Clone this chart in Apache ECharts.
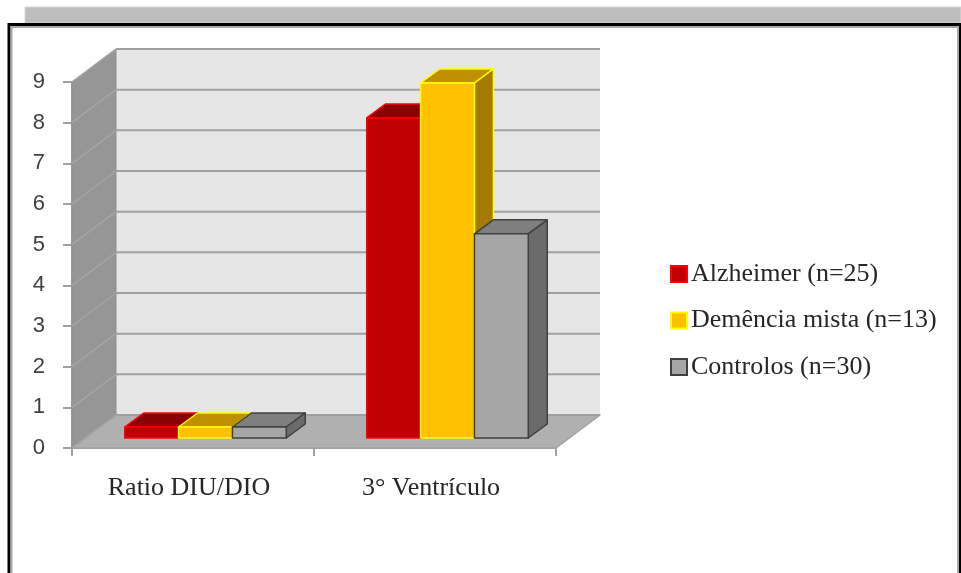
<!DOCTYPE html>
<html>
<head>
<meta charset="utf-8">
<style>html,body{margin:0;padding:0;background:#fff}#chart{width:961px;height:573px}</style>
<script src="https://cdn.jsdelivr.net/npm/echarts@6/dist/echarts.min.js"></script>
</head>
<body>
<div id="chart"></div>
<script>
// Measures compared across the three patient groups
const categories = ['Ratio DIU/DIO', '3° Ventrículo'];
const alzheimer = [0.27, 7.87];
const demenciaMista = [0.27, 8.73];
const controlos = [0.27, 5.02];
const yTicks = [0, 1, 2, 3, 4, 5, 6, 7, 8, 9];

// Oblique projection of the box: wall depth, then bar depth and inset
const WALL_DX = 44, WALL_DY = -33;
const BAR_DX = 19, BAR_DY = -14;
const INSET_DX = 12.5, INSET_DY = -10;
const BAR_BAND = 0.2225;

const chart = echarts.init(document.getElementById('chart'));

function poly(points, fill, stroke, lineWidth) {
  return {
    type: 'polygon',
    shape: { points },
    style: { fill, stroke: stroke || null, lineWidth: lineWidth || 0, lineJoin: 'round' }
  };
}

// Back wall, side wall and floor behind the bars
function renderWalls(params, api) {
  const c = params.coordSys;
  const l = c.x, r = c.x + c.width, t = c.y, b = c.y + c.height;
  return {
    type: 'group',
    children: [
      poly([[l + WALL_DX, t + WALL_DY], [r + WALL_DX, t + WALL_DY], [r + WALL_DX, b + WALL_DY], [l + WALL_DX, b + WALL_DY]], '#e6e6e6'),
      poly([[l, t], [l + WALL_DX, t + WALL_DY], [l + WALL_DX, b + WALL_DY], [l, b]], '#969696', '#909090', 1),
      poly([[l, b], [l + WALL_DX, b + WALL_DY], [r + WALL_DX, b + WALL_DY], [r, b]], '#b0b0b0', '#a0a0a0', 1.5)
    ]
  };
}

// One gridline per tick, running along the side wall and the back wall
function renderGridline(params, api) {
  const c = params.coordSys;
  const y = api.coord([0, api.value(0)])[1];
  const l = c.x, r = c.x + c.width;
  return {
    type: 'group',
    children: [
      {
        type: 'line',
        shape: { x1: l, y1: y, x2: l + WALL_DX, y2: y + WALL_DY },
        style: { stroke: '#a4a4a4', lineWidth: 1.5 }
      },
      {
        type: 'line',
        shape: { x1: l + WALL_DX, y1: y + WALL_DY, x2: r + WALL_DX, y2: y + WALL_DY },
        style: { stroke: '#a0a0a0', lineWidth: 2 }
      }
    ]
  };
}

// Prism for one bar: front face, top face and right face
function barRenderer(order, topColor, sideColor) {
  return function (params, api) {
    const cat = api.value(0);
    const top = api.coord([cat, api.value(1)]);
    const base = api.coord([cat, 0]);
    const w = api.size([1, 0])[0] * BAR_BAND;
    const x0 = top[0] + (order - 1.5) * w + INSET_DX;
    const x1 = x0 + w;
    const y0 = top[1] + INSET_DY;
    const y1 = base[1] + INSET_DY;
    const st = api.style();
    const stroke = st.stroke, lw = 1.5;
    return {
      type: 'group',
      children: [
        poly([[x0, y0], [x0 + BAR_DX, y0 + BAR_DY], [x1 + BAR_DX, y0 + BAR_DY], [x1, y0]], topColor, stroke, lw),
        poly([[x1, y0], [x1 + BAR_DX, y0 + BAR_DY], [x1 + BAR_DX, y1 + BAR_DY], [x1, y1]], sideColor, stroke, lw),
        poly([[x0, y0], [x1, y0], [x1, y1], [x0, y1]], st.fill, stroke, lw)
      ]
    };
  };
}

function barSeries(name, values, order, fill, stroke, topColor, sideColor) {
  return {
    type: 'custom',
    name,
    z: 5 + order,
    coordinateSystem: 'cartesian2d',
    itemStyle: { color: fill, borderColor: stroke, borderWidth: 2 },
    encode: { x: 0, y: 1 },
    data: values.map((v, i) => [i, v]),
    renderItem: barRenderer(order, topColor, sideColor)
  };
}

chart.setOption({
  animation: false,
  backgroundColor: '#fff',
  grid: { left: 72, top: 82, width: 484, height: 366 },
  xAxis: {
    type: 'category',
    data: categories,
    axisLine: { lineStyle: { color: '#a0a0a0', width: 2 } },
    axisTick: { show: true, alignWithLabel: false, length: 8, lineStyle: { color: '#a0a0a0', width: 2 } },
    axisLabel: { fontFamily: 'Liberation Serif', fontSize: 26, color: '#262626', margin: 27, padding: [0, 8, 0, 0] }
  },
  yAxis: {
    type: 'value',
    min: 0,
    max: 9,
    interval: 1,
    splitLine: { show: false },
    axisLine: { show: true, lineStyle: { color: '#a0a0a0', width: 2 } },
    axisTick: { show: true, length: 9, lineStyle: { color: '#a0a0a0', width: 2 } },
    axisLabel: { fontFamily: 'Liberation Sans', fontSize: 22, color: '#404040', margin: 27, padding: [2, 0, 0, 0] }
  },
  legend: {
    orient: 'vertical',
    left: 670,
    top: 261,
    padding: 0,
    itemWidth: 16,
    itemHeight: 16,
    itemGap: 20.5,
    icon: 'rect',
    data: ['Alzheimer (n=25)', 'Demência mista (n=13)', 'Controlos (n=30)'],
    textStyle: { fontFamily: 'Liberation Serif', fontSize: 26, lineHeight: 26, color: '#262626', padding: [0, 0, 0, -1] }
  },
  graphic: [
    // Grey strip of the sheet behind, then the black outlined frame
    { type: 'rect', z: -10, shape: { x: 25, y: 7, width: 936, height: 16 }, style: { fill: '#bdbdbd', stroke: '#d8d8d8', lineWidth: 1 } },
    { type: 'polyline', z: -9, shape: { points: [[9, 573], [9, 24.5], [960, 24.5], [960, 573]] }, style: { fill: '#fff', stroke: '#000', lineWidth: 3 } },
    { type: 'polyline', z: -8, shape: { points: [[11.5, 573], [11.5, 27], [958, 27], [958, 573]] }, style: { fill: null, stroke: '#a8a8a8', lineWidth: 2 } }
  ],
  series: [
    { type: 'custom', silent: true, z: 1, coordinateSystem: 'cartesian2d', data: [[0, 0]], renderItem: renderWalls },
    { type: 'custom', silent: true, z: 2, coordinateSystem: 'cartesian2d', data: yTicks.map(v => [v]), encode: { y: 0 }, renderItem: renderGridline },
    barSeries('Alzheimer (n=25)', alzheimer, 0, '#c00000', '#ff0000', '#8b0000', '#7f0000'),
    barSeries('Demência mista (n=13)', demenciaMista, 1, '#ffc000', '#ffff00', '#bf9000', '#a67c00'),
    barSeries('Controlos (n=30)', controlos, 2, '#a6a6a6', '#404040', '#7f7f7f', '#6b6b6b')
  ]
});
</script>
</body>
</html>
